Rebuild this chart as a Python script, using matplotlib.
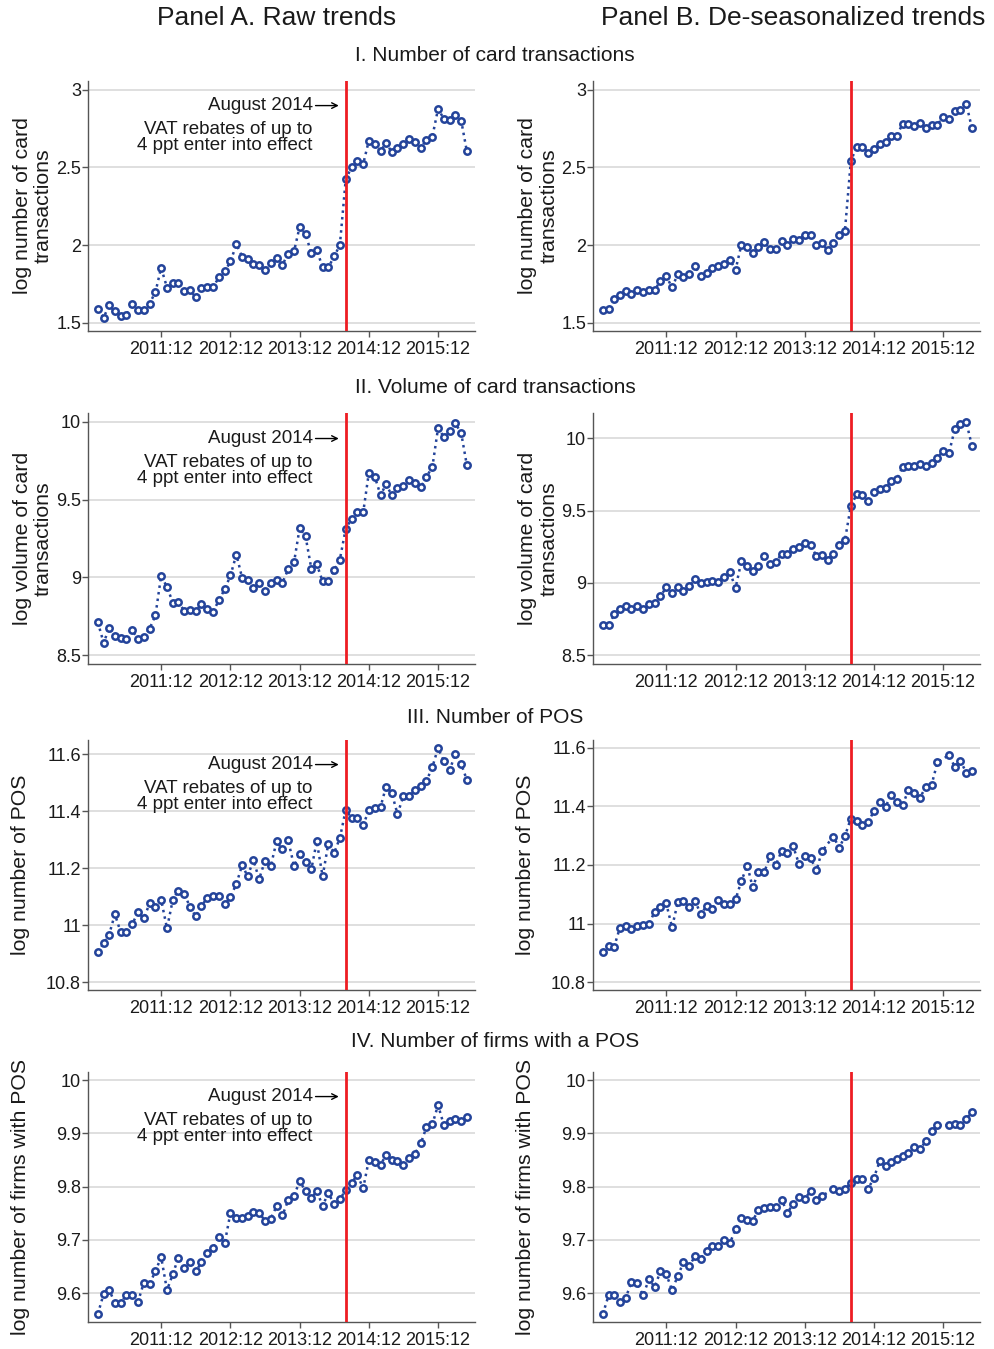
import matplotlib
matplotlib.use('Agg')
import matplotlib.pyplot as plt
import numpy as np
import pandas as pd

plt.rcParams['font.family'] = ['Liberation Sans', 'DejaVu Sans']

nan = np.nan

# monthly observations, 2011:01 - 2016:05
months = pd.date_range('2011-01-01', periods=65, freq='MS')
tickMonths = pd.to_datetime(['2011-12-01', '2012-12-01', '2013-12-01', '2014-12-01', '2015-12-01'])
tickLabels = ['2011:12', '2012:12', '2013:12', '2014:12', '2015:12']
reformMonth = pd.Timestamp('2014-08-01')

rawCardCount = [1.586, 1.534, 1.612, 1.573, 1.545, 1.549, 1.624, 1.584, 1.582, 1.624,
                1.697, 1.854, 1.727, 1.755, 1.755, 1.704, 1.710, 1.663, 1.727, 1.732,
                1.732, 1.792, 1.830, 1.895, 2.004, 1.925, 1.910, 1.878, 1.871, 1.839,
                1.882, 1.914, 1.873, 1.944, 1.959, 2.118, 2.069, 1.946, 1.970, 1.856,
                1.856, 1.927, 2.000, 2.423, 2.502, 2.543, 2.521, 2.672, 2.648, 2.603,
                2.659, 2.597, 2.624, 2.648, 2.682, 2.663, 2.624, 2.678, 2.697, 2.876,
                2.811, 2.803, 2.835, 2.800, 2.603]
desCardCount = [1.584, 1.590, 1.650, 1.678, 1.702, 1.685, 1.712, 1.697, 1.710, 1.710,
                1.770, 1.798, 1.729, 1.813, 1.796, 1.813, 1.865, 1.800, 1.818, 1.850,
                1.863, 1.880, 1.906, 1.841, 2.002, 1.985, 1.951, 1.985, 2.021, 1.972,
                1.972, 2.028, 2.000, 2.036, 2.034, 2.067, 2.067, 2.002, 2.013, 1.966,
                2.013, 2.062, 2.092, 2.539, 2.633, 2.633, 2.594, 2.618, 2.650, 2.665,
                2.704, 2.704, 2.779, 2.779, 2.768, 2.783, 2.751, 2.773, 2.775, 2.822,
                2.811, 2.861, 2.871, 2.908, 2.753]

rawCardVolume = [8.712, 8.579, 8.675, 8.624, 8.613, 8.605, 8.662, 8.605, 8.615, 8.671,
                 8.756, 9.011, 8.938, 8.838, 8.840, 8.786, 8.791, 8.784, 8.831, 8.795,
                 8.780, 8.855, 8.925, 9.013, 9.147, 8.994, 8.983, 8.929, 8.964, 8.912,
                 8.966, 8.983, 8.966, 9.051, 9.096, 9.318, 9.263, 9.053, 9.085, 8.974,
                 8.974, 9.047, 9.115, 9.314, 9.376, 9.417, 9.417, 9.673, 9.647, 9.528,
                 9.598, 9.528, 9.573, 9.590, 9.628, 9.607, 9.579, 9.647, 9.709, 9.959,
                 9.902, 9.940, 9.991, 9.927, 9.720]
desCardVolume = [8.710, 8.705, 8.781, 8.816, 8.843, 8.820, 8.843, 8.820, 8.850, 8.857,
                 8.908, 8.968, 8.931, 8.972, 8.940, 8.977, 9.025, 9.002, 9.005, 9.012,
                 9.009, 9.041, 9.074, 8.965, 9.150, 9.120, 9.083, 9.118, 9.189, 9.129,
                 9.145, 9.200, 9.198, 9.237, 9.247, 9.279, 9.263, 9.184, 9.191, 9.159,
                 9.203, 9.263, 9.295, 9.532, 9.613, 9.606, 9.569, 9.629, 9.647, 9.657,
                 9.705, 9.717, 9.802, 9.806, 9.809, 9.825, 9.811, 9.832, 9.864, 9.915,
                 9.899, 10.067, 10.101, 10.115, 9.949]

rawPos = [10.904, 10.937, 10.965, 11.038, 10.977, 10.977, 11.003, 11.045, 11.024, 11.076,
          11.065, 11.089, 10.989, 11.090, 11.121, 11.111, 11.064, 11.031, 11.067, 11.097,
          11.104, 11.104, 11.073, 11.099, 11.145, 11.212, 11.171, 11.228, 11.162, 11.226,
          11.206, 11.294, 11.266, 11.299, 11.208, 11.249, 11.223, 11.198, 11.294, 11.171,
          11.286, 11.254, 11.306, 11.405, 11.376, 11.375, 11.352, 11.403, 11.413, 11.416,
          11.485, 11.464, 11.390, 11.453, 11.453, 11.476, 11.487, 11.507, 11.555, 11.622,
          11.575, 11.546, 11.601, 11.566, 11.510]
desPos = [10.904, 10.923, 10.920, 10.986, 10.992, 10.980, 10.993, 10.995, 10.997, 11.041,
          11.058, 11.069, 10.987, 11.075, 11.076, 11.057, 11.077, 11.032, 11.060, 11.050,
          11.079, 11.066, 11.066, 11.082, 11.146, 11.198, 11.124, 11.175, 11.175, 11.229,
          11.199, 11.248, 11.239, 11.263, 11.203, 11.229, 11.223, 11.181, 11.246, nan,
          11.297, 11.258, 11.299, 11.358, 11.351, 11.337, 11.345, 11.385, 11.414, 11.399,
          11.439, 11.414, 11.404, 11.455, 11.445, 11.430, 11.466, 11.473, 11.550, nan,
          11.575, 11.534, 11.556, 11.515, 11.522]

rawFirms = [9.561, 9.599, 9.607, 9.582, 9.581, 9.597, 9.597, 9.584, 9.620, 9.618,
            9.641, 9.668, 9.606, 9.636, 9.667, 9.648, 9.659, 9.641, 9.658, 9.676,
            9.684, 9.705, 9.695, 9.751, 9.741, 9.741, 9.745, 9.753, 9.751, 9.736,
            9.740, 9.763, 9.746, 9.774, 9.783, 9.810, 9.792, 9.778, 9.792, 9.764,
            9.788, 9.767, 9.776, 9.794, 9.807, 9.822, 9.797, 9.850, 9.847, 9.841,
            9.859, 9.850, 9.849, 9.840, 9.854, 9.862, 9.881, 9.912, 9.917, 9.953,
            9.915, 9.924, 9.927, 9.924, 9.930]
desFirms = [9.561, 9.597, 9.597, 9.584, 9.591, 9.621, 9.619, 9.596, 9.626, 9.612,
            9.641, 9.636, 9.606, 9.633, 9.658, 9.652, 9.669, 9.665, 9.680, 9.688,
            9.689, 9.699, 9.694, 9.720, 9.742, 9.738, 9.736, 9.756, 9.760, 9.761,
            9.761, 9.775, 9.751, 9.768, 9.781, 9.777, 9.792, 9.775, 9.782, nan,
            9.796, 9.791, 9.795, 9.806, 9.814, 9.814, 9.796, 9.817, 9.848, 9.838,
            9.847, 9.852, 9.857, 9.864, 9.875, 9.871, 9.885, 9.904, 9.915, nan,
            9.915, 9.918, 9.915, 9.927, 9.940]

rowTitles = ['I. Number of card transactions', 'II. Volume of card transactions',
             'III. Number of POS', 'IV. Number of firms with a POS']
yLabels = ['log number of card\ntransactions', 'log volume of card\ntransactions',
           'log number of POS', 'log number of firms with POS']
yTicks = [[1.5, 2, 2.5, 3], [8.5, 9, 9.5, 10],
          [10.8, 11, 11.2, 11.4, 11.6], [9.6, 9.7, 9.8, 9.9, 10]]
rawSeries = [rawCardCount, rawCardVolume, rawPos, rawFirms]
desSeries = [desCardCount, desCardVolume, desPos, desFirms]

# layout (figure fractions) and limits
colLeft = [0.0884, 0.596]
axWidth = 0.389
rowBottom = [0.7546, 0.5078, 0.2661, 0.0200]
axHeight = 0.1857
yLims = [[(1.447, 3.058), (1.447, 3.058)],
         [(8.444, 10.053), (8.438, 10.173)],
         [(10.772, 11.652), (10.773, 11.628)],
         [(9.546, 10.016), (9.546, 10.016)]]
titleY = [0.9585, 0.7124, 0.4678, 0.2276]

blue = '#23439a'
red = '#ee1d23'
textColor = '#1a1a1a'


def drawPanel(ax, values, ticks, ylim, ylabel, withNote):
    s = pd.Series(values, index=months).dropna()
    ax.plot(s.index, s.values, linestyle=':', linewidth=1.8, color=blue,
            marker='o', markersize=4.6, markeredgewidth=1.8,
            markerfacecolor='white', markeredgecolor=blue, zorder=3)
    ax.axvline(reformMonth, color=red, linewidth=2, zorder=4)

    ax.set_xlim(pd.Timestamp('2010-11-10'), pd.Timestamp('2016-06-13'))
    ax.set_ylim(*ylim)
    ax.set_xticks(tickMonths)
    ax.set_xticklabels(tickLabels)
    ax.set_yticks(ticks)
    ax.set_yticklabels(['%g' % t for t in ticks])
    ax.grid(axis='y', color='#d6d6d6', linewidth=1.1)
    ax.set_axisbelow(True)
    for side in ['top', 'right']:
        ax.spines[side].set_visible(False)
    for side in ['left', 'bottom']:
        ax.spines[side].set_color('#555555')
        ax.spines[side].set_linewidth(1)
    ax.tick_params(axis='both', labelsize=13, colors='#555555', labelcolor=textColor,
                   length=4, width=1)
    ax.tick_params(axis='y', pad=1)
    ax.tick_params(axis='x', pad=3)

    ax.set_ylabel(ylabel, fontsize=15.3, color=textColor, linespacing=1.15)
    if '\n' in ylabel:
        ax.yaxis.set_label_coords(-0.09, 0.5)
    else:
        ax.yaxis.set_label_coords(-0.15, 0.5)

    if withNote:
        ax.text(0.581, 0.9, 'August 2014', transform=ax.transAxes, ha='right',
                va='center', fontsize=13.5, color=textColor)
        ax.annotate('', xy=(0.648, 0.9), xytext=(0.588, 0.9),
                    xycoords='axes fraction', textcoords='axes fraction',
                    arrowprops=dict(arrowstyle='->', color='black', lw=1,
                                    shrinkA=0, shrinkB=0))
        ax.text(0.581, 0.772, 'VAT rebates of up to\n4 ppt enter into effect',
                transform=ax.transAxes, ha='right', va='center', fontsize=13.5,
                color=textColor, multialignment='right', linespacing=0.92)


fig = plt.figure(figsize=(9.95, 13.49), dpi=100)

fig.text(0.2784, 0.9867, 'Panel A. Raw trends', ha='center', va='center',
         fontsize=19, color=textColor)
fig.text(0.797, 0.9867, 'Panel B. De-seasonalized trends', ha='center', va='center',
         fontsize=19, color=textColor)

for r in range(4):
    fig.text(0.4975, titleY[r], rowTitles[r], ha='center', va='center',
             fontsize=15, color=textColor)
    axA = fig.add_axes([colLeft[0], rowBottom[r], axWidth, axHeight])
    drawPanel(axA, rawSeries[r], yTicks[r], yLims[r][0], yLabels[r], True)
    axB = fig.add_axes([colLeft[1], rowBottom[r], axWidth, axHeight])
    drawPanel(axB, desSeries[r], yTicks[r], yLims[r][1], yLabels[r], False)

fig.savefig('out.png', dpi=100)
